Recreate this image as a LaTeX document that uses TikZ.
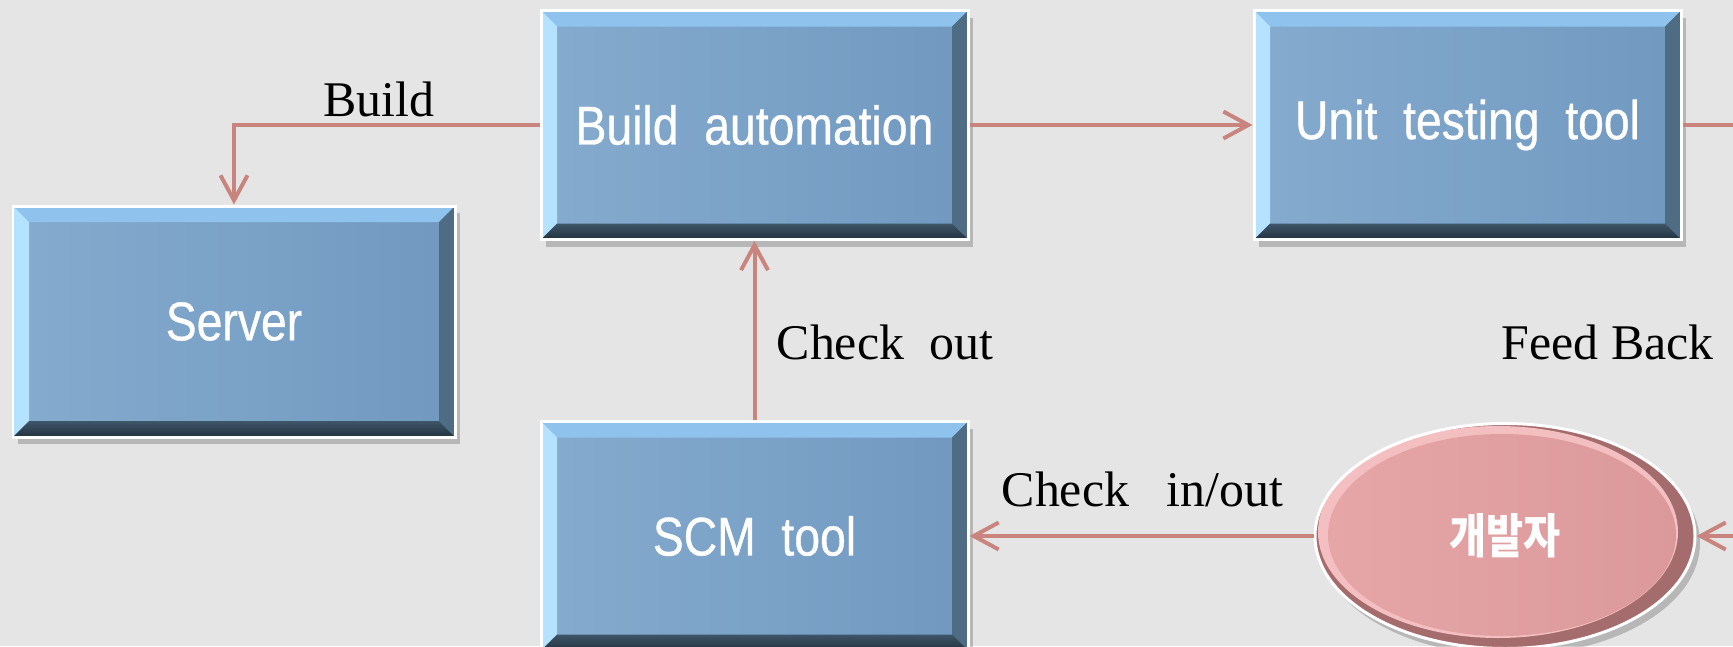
\documentclass[tikz,border=0pt]{standalone}
\usepackage{fontspec}
\setmainfont{Liberation Serif}
\newfontfamily\boxfont[FakeStretch=0.85,FakeBold=0.6]{Liberation Sans}
\newfontfamily\krfont[FakeStretch=0.85]{Noto Sans CJK KR}
\usetikzlibrary{positioning,shapes.geometric,arrows.meta,shadows}

\definecolor{bgclr}{HTML}{E5E5E5}
\definecolor{faceL}{HTML}{85ABCE}
\definecolor{faceR}{HTML}{7199C0}
\definecolor{bvtop}{HTML}{8FC2EC}
\definecolor{bvleft}{HTML}{B4E2FF}
\definecolor{bvright}{HTML}{4E6C83}
\definecolor{bvbotT}{HTML}{3E5669}
\definecolor{bvbotB}{HTML}{22323F}
\definecolor{connclr}{HTML}{C9847E}
\definecolor{devdark}{HTML}{A46C6D}
\definecolor{devlight}{HTML}{F4BFC1}
\definecolor{devL}{HTML}{E6A5A7}
\definecolor{devR}{HTML}{DB999B}

\def\bv{0.16cm}

\begin{document}
\begin{tikzpicture}[
  toolbox/.style={
    rectangle, inner sep=0pt,
    minimum width=4.27cm, minimum height=2.29cm,
    draw=white, line width=0.85pt,
    text=white, font=\boxfont\fontsize{15.5}{18}\selectfont,
    drop shadow={shadow xshift=0.05cm, shadow yshift=-0.07cm, opacity=0.2, fill=black},
    path picture={
      \shade[left color=faceL, right color=faceR]
        (path picture bounding box.south west) rectangle (path picture bounding box.north east);
      % top bevel
      \fill[bvtop]
        (path picture bounding box.north west) -- (path picture bounding box.north east)
        -- ([shift={(-\bv,-\bv)}]path picture bounding box.north east)
        -- ([shift={(\bv,-\bv)}]path picture bounding box.north west) -- cycle;
      % left bevel
      \fill[bvleft]
        (path picture bounding box.north west) -- (path picture bounding box.south west)
        -- ([shift={(\bv,\bv)}]path picture bounding box.south west)
        -- ([shift={(\bv,-\bv)}]path picture bounding box.north west) -- cycle;
      % right bevel
      \fill[bvright]
        (path picture bounding box.north east) -- (path picture bounding box.south east)
        -- ([shift={(-\bv,\bv)}]path picture bounding box.south east)
        -- ([shift={(-\bv,-\bv)}]path picture bounding box.north east) -- cycle;
      % bottom bevel
      \shade[top color=bvbotT, bottom color=bvbotB]
        (path picture bounding box.south west) -- (path picture bounding box.south east)
        -- ([shift={(-\bv,\bv)}]path picture bounding box.south east)
        -- ([shift={(\bv,\bv)}]path picture bounding box.south west) -- cycle;
    },
  },
  devnode/.style={
    ellipse, inner sep=0pt,
    minimum width=3.8cm, minimum height=2.25cm,
    draw=white, line width=0.85pt,
    text=white, font=\krfont\bfseries\fontsize{13.5}{15}\selectfont,
    drop shadow={shadow xshift=0.05cm, shadow yshift=-0.07cm, opacity=0.2, fill=black},
    path picture={
      \fill[devdark] (path picture bounding box.center) ellipse (1.9cm and 1.125cm);
      \fill[devlight] ([shift={(-0.07cm,0.04cm)}]path picture bounding box.center)
        ellipse (1.8cm and 1.06cm);
      \shade[left color=devL, right color=devR] ([shift={(-0.03cm,0.01cm)}]path picture bounding box.center)
        ellipse (1.74cm and 1.01cm);
    },
  },
  conn/.style={
    draw=connclr, line width=1.13pt,
    -{Straight Barb[length=0.25cm,width=0.27cm]},
  },
  lbl/.style={font=\fontsize{14.2}{17}\selectfont, inner sep=0pt},
  ]
  \useasboundingbox (0,0) rectangle (17.33,-6.46);
  \fill[bgclr] (0,0) rectangle (17.33,-6.46);
  \clip (0,0) rectangle (17.33,-6.46);

  \node[toolbox] (build) at (7.545,-1.25) {Build~~automation};
  \node[toolbox,right=2.83cm of build] (unit) {Unit~~testing~~tool};
  \node[toolbox,below=1.79cm of build] (scm) {SCM~~tool};
  \node[toolbox,minimum width=4.42cm,minimum height=2.31cm]
    (server) at (2.34,-3.215) {Server};
  \node[devnode,right=3.44cm of scm] (dev) {개발자};

  \draw[conn] (build.west) -| (server.north);
  \draw[conn] (build.east) -- (unit.west);
  \draw[conn] (scm.north) -- (build.south);
  \draw[conn] (dev.west) -- (scm.east);
  % feedback loop leaves the picture on the right
  \draw[conn] (unit.east) -- ++(0.9,0) |- (dev.east);

  \node[lbl,anchor=base] (buildlbl) at (3.785,-1.16) {Build};
  \node[lbl,anchor=base west] (checkout) at (7.76,-3.59) {Check~~out};
  \node[lbl,anchor=base west] (checkinout) at (10.01,-5.06) {Check~~~in/out};
  \node[lbl,anchor=base west] (feedback) at (15.01,-3.59) {Feed Back};
\end{tikzpicture}
\end{document}
